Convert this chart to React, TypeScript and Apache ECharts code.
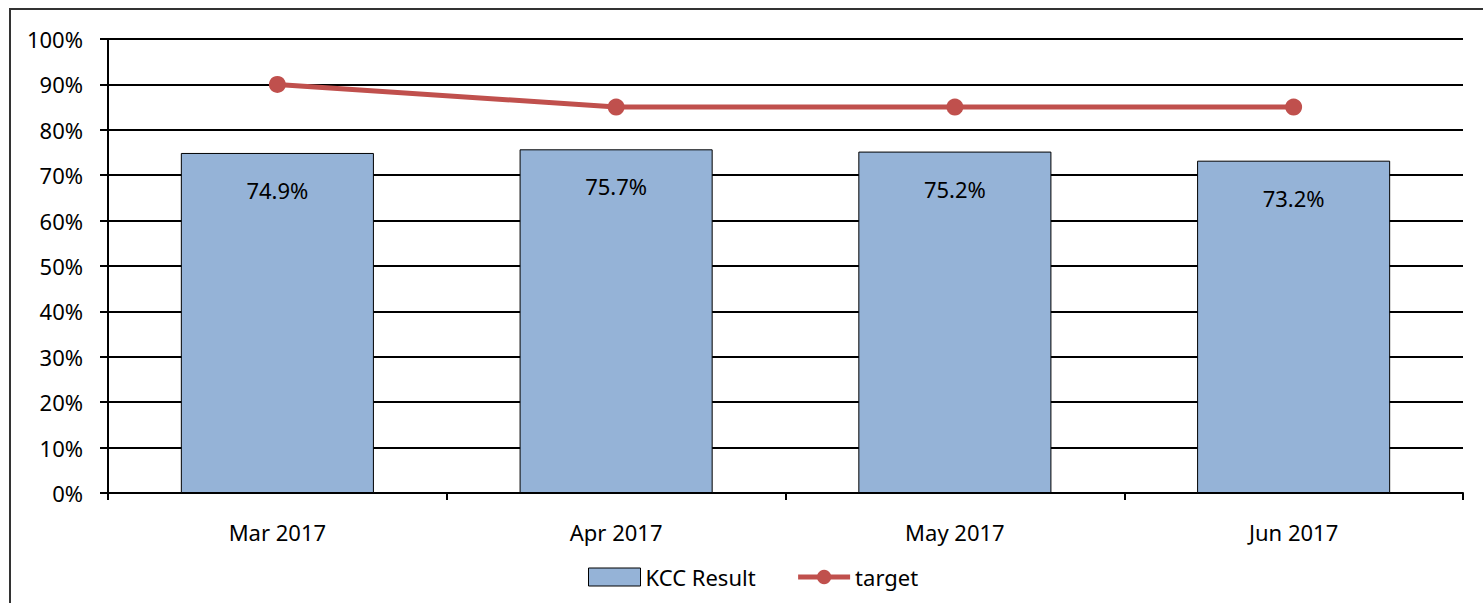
import React, { useEffect, useRef } from "react";
import * as echarts from "echarts";

const categories = ["Mar 2017", "Apr 2017", "May 2017", "Jun 2017"];
const kccResult = [74.9, 75.7, 75.2, 73.2];
const target = [90, 85, 85, 85];
const yTicks = [0, 10, 20, 30, 40, 50, 60, 70, 80, 90, 100];

const FONT = "'Noto Sans', 'Open Sans', sans-serif";
const FS = 22;

export default function App() {
  const ref = useRef<HTMLDivElement>(null);
  useEffect(() => {
    document.body.style.margin = "0";
    const chart = echarts.init(ref.current!, null, { renderer: "svg" });
    chart.setOption({
      animation: false,
      backgroundColor: "#ffffff",
      textStyle: { fontFamily: FONT },
      graphic: [
        {
          type: "rect",
          shape: { x: 10, y: 9, width: 1490, height: 620 },
          style: { fill: "none", stroke: "#333", lineWidth: 2 },
          silent: true,
          z: -1,
        },
      ],
      grid: { left: 108, right: 20, top: 39, bottom: 110, containLabel: false },
      legend: {
        bottom: 10,
        left: 583,
        itemWidth: 52,
        itemHeight: 18,
        itemGap: 40,
        textStyle: { fontSize: FS, color: "#000", fontFamily: FONT },
        data: [
          {
            name: "KCC Result",
            icon: "rect",
            itemStyle: { color: "#95B3D7", borderColor: "#000", borderWidth: 1 },
          },
          {
            name: "target",
            lineStyle: { color: "#C0504D", width: 5 },
          },
        ],
      },
      xAxis: {
        type: "category",
        data: categories,
        boundaryGap: true,
        axisLine: { show: true, lineStyle: { color: "#000", width: 2 } },
        axisTick: { show: true, alignWithLabel: false, length: 7, lineStyle: { color: "#000", width: 2 } },
        axisLabel: { color: "#000", fontSize: FS, margin: 28, fontFamily: FONT },
      },
      yAxis: {
        type: "value",
        min: 0,
        max: 100,
        interval: 10,
        axisLine: { show: true, lineStyle: { color: "#000", width: 2 } },
        axisTick: { show: true, inside: false, length: 8, lineStyle: { color: "#000", width: 2 } },
        splitLine: { show: true, lineStyle: { color: "#000", width: 2 } },
        axisLabel: {
          color: "#000",
          fontSize: FS,
          margin: 25,
          fontFamily: FONT,
          formatter: (v: number) => (yTicks.includes(v) ? v + "%" : ""),
        },
      },
      series: [
        {
          name: "KCC Result",
          type: "bar",
          data: kccResult,
          barWidth: "57%",
          itemStyle: { color: "#95B3D7", borderColor: "#000", borderWidth: 1 },
          label: {
            show: true,
            position: "insideTop",
            distance: 26,
            color: "#000",
            fontSize: FS,
            fontFamily: FONT,
            formatter: (p: any) => p.value.toFixed(1) + "%",
          },
          z: 2,
        },
        {
          name: "target",
          type: "line",
          data: target,
          symbol: "circle",
          symbolSize: 17,
          lineStyle: { color: "#C0504D", width: 5 },
          itemStyle: { color: "#C0504D" },
          z: 3,
        },
      ],
    });
    return () => chart.dispose();
  }, []);
  return <div ref={ref} style={{ width: 1483, height: 603 }} />;
}
